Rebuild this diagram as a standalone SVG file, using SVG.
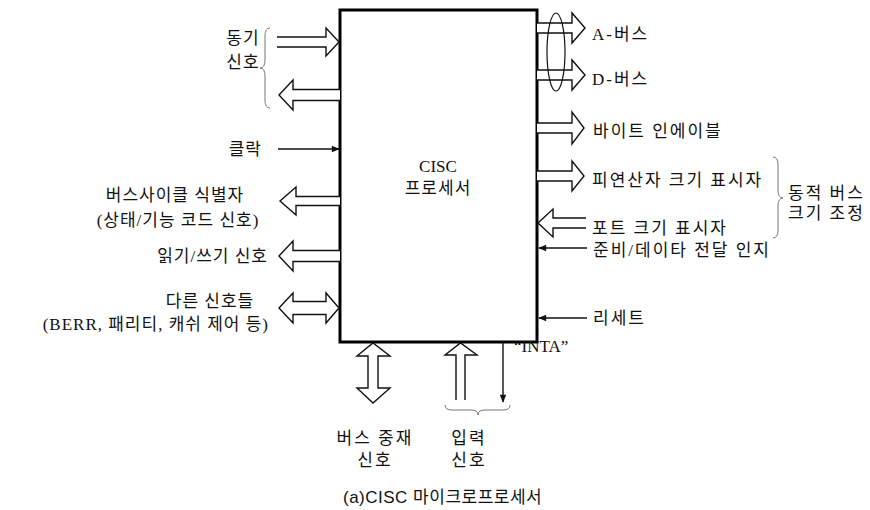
<svg xmlns="http://www.w3.org/2000/svg" width="870" height="510" viewBox="0 0 870 510">
<style>
.t{font-family:"Liberation Serif","Noto Sans CJK KR",serif;font-size:17px;letter-spacing:1px;fill:#111}
.w{letter-spacing:2px}
.n{letter-spacing:0}
.c{font-family:"Liberation Sans","Noto Sans CJK KR",sans-serif;font-size:17px;letter-spacing:0.5px;fill:#111}
.m{text-anchor:middle}
.e{text-anchor:end}
.box{fill:#fff;stroke:#000;stroke-width:3}
.ha{fill:#fff;stroke:#111;stroke-width:1.4;stroke-linejoin:miter}
.ln{fill:none;stroke:#111;stroke-width:1.4}
.br{fill:none;stroke:#777;stroke-width:1}
</style>
<defs>
<marker id="ah" viewBox="0 0 10 10" refX="9" refY="5" markerWidth="10" markerHeight="8" markerUnits="userSpaceOnUse" orient="auto">
<path d="M0,1 L10,5 L0,9 Z" fill="#111"/>
</marker>
</defs>
<g id="processor">
<rect class="box" x="340" y="10" width="197" height="332"/>
<text class="t m n" x="438" y="172">CISC</text>
<text class="t m" x="438" y="194">프로세서</text>
</g>
<g id="connectors">
<path class="ha" d="M277,37 L326,37 L326,28 L339,42 L326,56 L326,47 L277,47"/>
<path class="ha" d="M340,89.5 L293,89.5 L293,80 L279,95 L293,110 L293,100.5 L340,100.5"/>
<line class="ln" x1="278" y1="149" x2="339" y2="149" marker-end="url(#ah)"/>
<path class="ha" d="M340,196.5 L296,196.5 L296,187 L280,201 L296,215 L296,205.5 L340,205.5"/>
<path class="ha" d="M340,250.5 L293,250.5 L293,241 L279,256 L293,271 L293,261.5 L340,261.5"/>
<path class="ha" d="M293,301.5 L326,301.5 L326,293 L339,308 L326,323 L326,314.5 L293,314.5 L293,323 L279,308 L293,293 Z"/>
<path class="ha" d="M537,23 L572,23 L572,13 L585,28 L572,43 L572,33 L537,33"/>
<path class="ha" d="M537,70 L572,70 L572,60 L585,75 L572,90 L572,80 L537,80"/>
<ellipse cx="556" cy="52" rx="9" ry="39" fill="none" stroke="#111" stroke-width="1.2"/>
<path class="ha" d="M537,123 L572,123 L572,112 L584,128 L572,144 L572,133 L537,133"/>
<path class="ha" d="M537,171 L572,171 L572,161 L584,176 L572,191 L572,181 L537,181"/>
<path class="ha" d="M586,218 L553,218 L553,209 L538,223 L553,237 L553,228 L586,228"/>
<line class="ln" x1="587" y1="248" x2="539" y2="248" marker-end="url(#ah)"/>
<line class="ln" x1="587" y1="318" x2="539" y2="318" marker-end="url(#ah)"/>
<line class="ln" x1="503" y1="342" x2="503" y2="402" marker-end="url(#ah)"/>
<path class="ha" d="M456,400 L456,355 L445,355 L460.5,343 L477,355 L465,355 L465,400"/>
<path class="ha" d="M368,356 L357,356 L373,343 L390,356 L378,356 L378,388 L390,388 L373,403 L357,388 L368,388 Z"/>
<path class="br" d="M270,28 Q265,28 265,36 L265,60 Q265,68 260,68 Q265,68 265,76 L265,100 Q265,108 270,108"/>
<path class="br" d="M773,157 Q778,157 778,165 L778,190 Q778,198 783,198 Q778,198 778,206 L778,230 Q778,238 773,238"/>
<path class="br" d="M445,405 Q445,410 452,410 L471,410 Q478,410 478,415 Q478,410 485,410 L503,410 Q510,410 510,405"/>
</g>
<g id="sync">
<text class="t m" x="243" y="44">동기</text>
<text class="t m" x="243" y="68">신호</text>
</g>
<g id="clock"><text class="t e" x="262" y="155">클락</text></g>
<g id="bus-cycle-id">
<text class="t m" x="175" y="201">버스사이클 식별자</text>
<text class="t m" x="178" y="226">(상태/기능 코드 신호)</text>
</g>
<g id="rw"><text class="t e" x="268" y="262">읽기/쓰기 신호</text></g>
<g id="other">
<text class="t m" x="210" y="307">다른 신호들</text>
<text class="t e" x="269" y="330">(BERR, 패리티, 캐쉬 제어 등)</text>
</g>
<g id="abus"><text class="t w" x="592" y="40">A-버스</text></g>
<g id="dbus"><text class="t w" x="592" y="85">D-버스</text></g>
<g id="byte-enable"><text class="t w" x="593" y="137">바이트 인에이블</text></g>
<g id="operand-size"><text class="t w" x="592" y="186">피연산자 크기 표시자</text></g>
<g id="port-size"><text class="t w" x="592" y="234">포트 크기 표시자</text></g>
<g id="dynamic-bus">
<text class="t w" x="788" y="199">동적 버스</text>
<text class="t w" x="788" y="219">크기 조정</text>
</g>
<g id="ack"><text class="t w" x="593" y="256">준비/데이타 전달 인지</text></g>
<g id="reset"><text class="t w" x="593" y="324">리세트</text></g>
<g id="inta"><text class="t n" x="514" y="352">“INTA”</text></g>
<g id="arbitration">
<text class="t m w" x="375" y="444">버스 중재</text>
<text class="t m w" x="375" y="466">신호</text>
</g>
<g id="interrupt">
<text class="t m w" x="469" y="444">입력</text>
<text class="t m w" x="469" y="466">신호</text>
</g>
<g id="caption"><text class="c" x="343" y="503">(a)CISC 마이크로프로세서</text></g>
</svg>
